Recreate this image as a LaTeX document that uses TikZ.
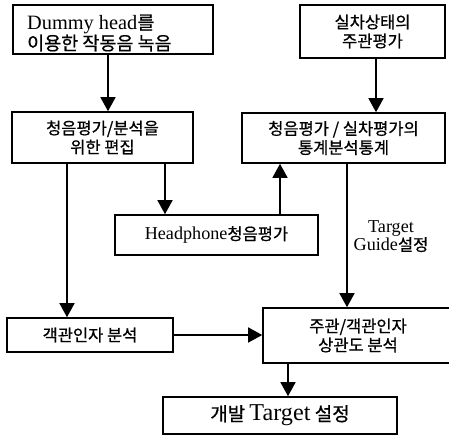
\documentclass[tikz,border=0pt]{standalone}
\usepackage{fontspec}
\setmainfont{Liberation Serif}[Scale=1.1]
\newfontfamily\kr{Noto Sans CJK KR}[FakeBold=0.7]
\usetikzlibrary{arrows.meta}
\newcommand{\Lt}[1]{{\rmfamily #1}}
\begin{document}
\begin{tikzpicture}[x=1pt,y=-1pt,
  box/.style={draw,line width=1.6pt,inner sep=0pt,align=center,
    font=\kr\fontsize{16.5}{19}\selectfont},
  txt/.style={inner sep=0pt,align=left,font=\kr\fontsize{18.5}{19}\selectfont},
  arr/.style={line width=1.5pt,-{Triangle[width=15pt,length=14pt]}}]
\useasboundingbox (0,0) rectangle (449,436);
% boxes
\node[box,minimum width=200pt,minimum height=49pt] (b1) at (113,29.5) {};
\node[txt,anchor=west] (t1) at (27,33) {\Lt{Dummy head}를\\이용한 작동음 녹음};
\node[box,minimum width=145pt,minimum height=53pt] (b2) at (372.5,31.5)
  {실차상태의\\주관평가};
\node[box,minimum width=181pt,minimum height=51pt] (b3) at (102.5,137.5)
  {청음평가/분석을\\위한 편집};
\node[box,minimum width=203pt,minimum height=50pt] (b4) at (343.5,138)
  {청음평가 / 실차평가의\\통계분석통계};
\node[box,minimum width=203pt,minimum height=40pt] (b5) at (216.5,235)
  {\Lt{Headphone}청음평가};
\node[box,minimum width=166pt,minimum height=34pt] (b6) at (90,335)
  {객관인자 분석};
\node[box,minimum width=190pt,minimum height=55pt] (b7) at (358,335.5)
  {주관/객관인자\\상관도 분석};
\node[box,minimum width=234pt,minimum height=37pt,font=\kr\fontsize{19}{20}\selectfont] (b8) at (280,415.5)
  {개발 {\rmfamily\fontsize{22}{20}\selectfont Target} 설정};
\node[align=center,font=\kr\fontsize{16.5}{18}\selectfont] (tg) at (391,236.5)
  {\Lt{Target}\\\Lt{Guide}설정};
% x positions of connectors
\coordinate (x1) at (108,0);
\coordinate (x2) at (376,0);
\coordinate (x3) at (165,0);
\coordinate (x4) at (280,0);
\coordinate (x5) at (67,0);
\coordinate (x6) at (347,0);
\coordinate (x7) at (288,0);
% connectors
\draw[arr] (b1.south -| x1) -- (b3.north -| x1);
\draw[arr] (b2.south -| x2) -- (b4.north -| x2);
\draw[arr] (b3.south -| x3) -- (b5.north -| x3);
\draw[arr] (b5.north -| x4) -- (b4.south -| x4);
\draw[arr] (b3.south -| x5) -- (b6.north -| x5);
\draw[arr] (b4.south -| x6) -- (b7.north -| x6);
\draw[arr] (b6.east) -- (b7.west |- b6.east);
\draw[arr] (b7.south -| x7) -- (b8.north -| x7);
\end{tikzpicture}
\end{document}
